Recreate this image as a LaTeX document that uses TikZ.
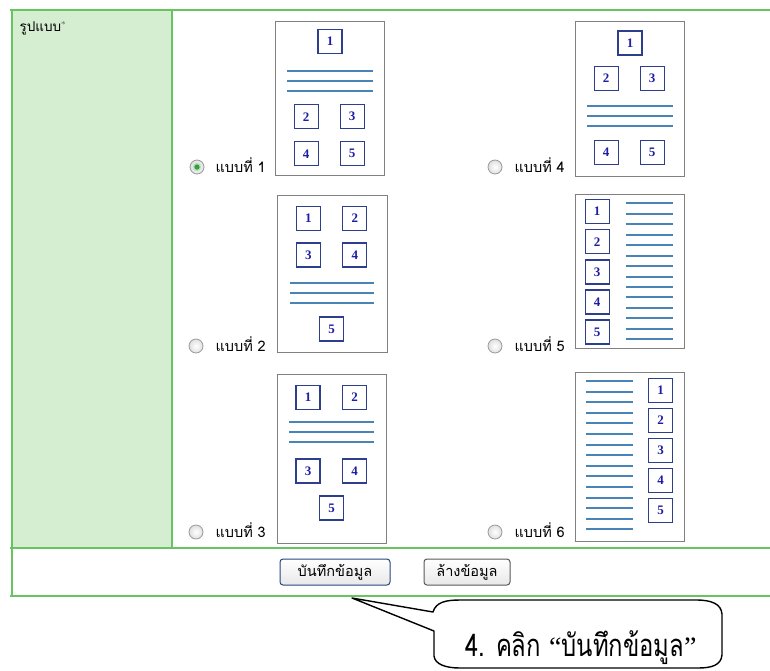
\documentclass[tikz,border=0pt]{standalone}
\usepackage{fontspec}
\setmainfont{Liberation Serif}
\newfontfamily\thai[Script=Thai]{Loma}
\newfontfamily\thainarrow[Script=Thai,FakeStretch=0.77]{Loma}
\usetikzlibrary{calc}

\definecolor{gridgreen}{RGB}{104,196,94}
\definecolor{cellgreen}{RGB}{213,238,209}
\definecolor{pagegray}{RGB}{128,128,128}
\definecolor{numblue}{RGB}{30,30,165}
\definecolor{sqblue}{RGB}{45,62,140}
\definecolor{lineblue}{RGB}{72,132,182}
\definecolor{btnblue}{RGB}{40,70,130}
\definecolor{dotgreen}{RGB}{50,160,60}

\tikzset{
  pagebox/.style={draw=pagegray, line width=1.1pt, fill=white, anchor=north west, inner sep=0pt},
  numbox/.style={draw=sqblue, line width=1.3pt, fill=white, minimum size=24pt, inner sep=0pt,
    font=\bfseries\fontsize{13}{13}\selectfont, text=numblue},
  textrule/.style={lineblue, line width=2pt},
  radio/.style={circle, draw=gray!80, line width=0.8pt, minimum size=14pt, inner sep=0pt,
    inner color=white, outer color=gray!25},
  choice/.style={anchor=base west, font=\thai\fontsize{14.5}{16}\selectfont},
  button/.style={draw=#1, line width=1pt, rounded corners=3pt, top color=white, bottom color=gray!18,
    minimum height=26pt, inner sep=0pt, font=\thai\fontsize{14.5}{16}\selectfont},
  gridline/.style={gridgreen, line width=2.4pt}
}

\begin{document}
\begin{tikzpicture}[x=1pt,y=-1pt]
\useasboundingbox (0,0) rectangle (770,670);
\fill[white] (0,0) rectangle (770,670);

% form table
\fill[cellgreen] (12,10) rectangle (172,548);
\draw[gridline] (10,10) -- (770,10);
\draw[gridline] (10,548) -- (770,548);
\draw[gridline] (10,596) -- (770,596);
\draw[gridgreen, line width=2pt] (12,9) -- (12,597);
\draw[gridgreen, line width=2pt] (172,10) -- (172,548);
\node[anchor=base west, font=\thai\fontsize{13.5}{15}\selectfont] (fieldname) at (16,31)
  {รูปแบบ\raisebox{4pt}{\rmfamily\fontsize{9}{9}\selectfont\color{gray!80!black}*}};

% layout 1
\node[pagebox, minimum width=109pt, minimum height=154pt] (p1) at (275,21) {};
\begin{scope}[shift={(275,21)}]
  \node[numbox] (p1a) at (55,20.7) {1};
  \foreach \y in {50,60,70} \draw[textrule] (12.3,\y) -- (97.7,\y);
  \node[numbox] (p1b) at (31.2,95.7) {2};
  \node[numbox] (p1c) at (77.2,95.7) {3};
  \node[numbox] (p1d) at (31.2,132.8) {4};
  \node[numbox] (p1e) at (77.2,132.8) {5};
\end{scope}

% layout 4
\node[pagebox, minimum width=109pt, minimum height=155pt] (p4) at (575,21) {};
\begin{scope}[shift={(575,21)}]
  \node[numbox] (p4a) at (55,22) {1};
  \node[numbox] (p4b) at (31.2,57.3) {2};
  \node[numbox] (p4c) at (77.2,57.3) {3};
  \foreach \y in {85,95,105} \draw[textrule] (12.3,\y) -- (97.7,\y);
  \node[numbox] (p4d) at (31.2,131.3) {4};
  \node[numbox] (p4e) at (77.2,131.3) {5};
\end{scope}

% layout 2
\node[pagebox, minimum width=110pt, minimum height=157pt] (p2) at (277,195) {};
\begin{scope}[shift={(277,195)}]
  \node[numbox] (p2a) at (31.3,23.3) {1};
  \node[numbox] (p2b) at (77.8,23.3) {2};
  \node[numbox] (p2c) at (31.3,60) {3};
  \node[numbox] (p2d) at (77.8,60) {4};
  \foreach \y in {88,98,108} \draw[textrule] (12.6,\y) -- (96.6,\y);
  \node[numbox] (p2e) at (54.6,134) {5};
\end{scope}

% layout 5
\node[pagebox, minimum width=109pt, minimum height=154pt] (p5) at (575,194) {};
\begin{scope}[shift={(575,194)}]
  \foreach \y in {9,20,30,41,51,62,72,83,93,103,114,124,135,145}
    \draw[textrule] (50.7,\y) -- (98.3,\y);
  \node[numbox] (p5a) at (22.2,17.7) {1};
  \node[numbox] (p5b) at (22.2,47.8) {2};
  \node[numbox] (p5c) at (22.2,77.9) {3};
  \node[numbox] (p5d) at (22.2,108) {4};
  \node[numbox] (p5e) at (22.2,138.1) {5};
\end{scope}

% layout 3
\node[pagebox, minimum width=109pt, minimum height=169pt] (p3) at (277,374) {};
\begin{scope}[shift={(277,374)}]
  \node[numbox] (p3a) at (31,23.2) {1};
  \node[numbox] (p3b) at (77.7,23.2) {2};
  \foreach \y in {48,58,68} \draw[textrule] (12.3,\y) -- (97.3,\y);
  \node[numbox] (p3c) at (31,97) {3};
  \node[numbox] (p3d) at (77.7,97) {4};
  \node[numbox] (p3e) at (54.5,134) {5};
\end{scope}

% layout 6
\node[pagebox, minimum width=109pt, minimum height=169pt] (p6) at (575,372) {};
\begin{scope}[shift={(575,372)}]
  \foreach \y in {9,20,30,41,51,62,73,83,94,104,115,126,136,147,157}
    \draw[textrule] (11,\y) -- (58.3,\y);
  \node[numbox] (p6a) at (85.5,18.5) {1};
  \node[numbox] (p6b) at (85.5,48.5) {2};
  \node[numbox] (p6c) at (85.5,78.5) {3};
  \node[numbox] (p6d) at (85.5,108.5) {4};
  \node[numbox] (p6e) at (85.5,138.5) {5};
\end{scope}

% radio buttons and their labels
\node[radio] (r1) at (197,167) {};
\fill[dotgreen!35] (r1) circle (4.2);
\fill[dotgreen] (r1) circle (2.6);
\node[choice] (t1) at (212,172) {แบบที่ 1};
\node[radio] (r4) at (495,167) {};
\node[choice] (t4) at (511,172) {แบบที่ 4};
\node[radio] (r2) at (196,346) {};
\node[choice] (t2) at (212,351) {แบบที่ 2};
\node[radio] (r5) at (495,346) {};
\node[choice] (t5) at (511,351) {แบบที่ 5};
\node[radio] (r3) at (196,532) {};
\node[choice] (t3) at (212,537) {แบบที่ 3};
\node[radio] (r6) at (495,532) {};
\node[choice] (t6) at (511,537) {แบบที่ 6};

% buttons
\node[button=btnblue, minimum width=110pt] (save) at (335,572) {บันทึกข้อมูล};
\node[button=gray!70!black, minimum width=86pt] (clear) at (467,572) {ล้างข้อมูล};

% callout
\coordinate (tip) at (352,598);
\draw[line width=1.4pt, fill=white, line join=round]
  (tip) -- (433,612) .. controls (436,602) and (446,600) .. (460,600)
  -- (696,600) .. controls (712,600) and (721,604) .. (722,614)
  -- (722,655) .. controls (721,665) and (712,668) .. (698,668)
  -- (460,668) .. controls (445,668) and (435,664) .. (434,656)
  -- (434,631) -- cycle;
\node[anchor=base, font=\thainarrow\fontsize{31}{33}\selectfont] (note) at (581,656)
  {4. คลิก {\rmfamily\fontsize{28}{30}\selectfont “}บันทึกข้อมูล{\rmfamily\fontsize{28}{30}\selectfont ”}};
\end{tikzpicture}
\end{document}
